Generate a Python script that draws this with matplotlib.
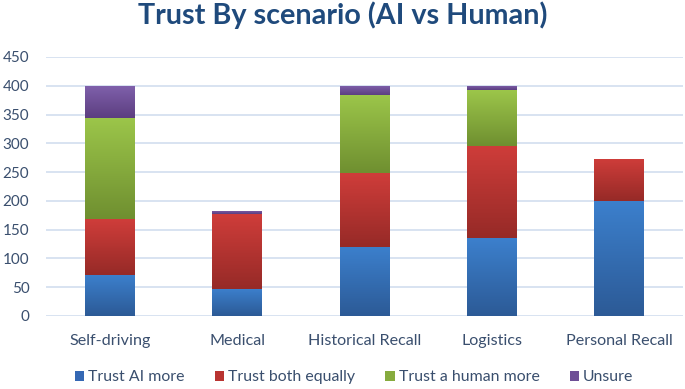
import matplotlib
matplotlib.use("Agg")
import matplotlib.pyplot as plt
import numpy as np
from matplotlib.colors import LinearSegmentedColormap
from matplotlib.patches import Patch

plt.rcParams['font.family'] = ['Lato', 'DejaVu Sans']

categories = ["Self-driving", "Medical", "Historical Recall", "Logistics", "Personal Recall"]
series_names = ["Trust AI more", "Trust both equally", "Trust a human more", "Unsure"]
trust_ai = [72, 47, 120, 135, 200]
trust_both = [96, 130, 128, 161, 73]
trust_human = [176, 0, 136, 96, 0]
unsure = [56, 6, 16, 8, 0]
yticks = [0, 50, 100, 150, 200, 250, 300, 350, 400, 450]

series = [trust_ai, trust_both, trust_human, unsure]
top_colors = ["#3C80CD", "#CF3D3A", "#9CC64A", "#8061AC"]
bot_colors = ["#2C5A96", "#962A27", "#6F8F30", "#5C3E80"]
legend_colors = ["#3568B4", "#B93431", "#86AB3E", "#6E4F96"]

fig = plt.figure(figsize=(6.85, 3.89), dpi=100)
ax = fig.add_axes([0.0672, 0.1877, 0.9298, 0.6658])

x = np.arange(len(categories))
width = 0.39
bottom = np.zeros(len(categories))
grad = np.linspace(0, 1, 256).reshape(-1, 1)
for vals, tc, bc in zip(series, top_colors, bot_colors):
    vals = np.array(vals, dtype=float)
    bars = ax.bar(x, vals, width, bottom=bottom, color=tc, edgecolor='none', zorder=3)
    cmap = LinearSegmentedColormap.from_list("g", [bc, tc])
    for b in bars:
        h = b.get_height()
        if h <= 0:
            continue
        x0, y0 = b.get_x(), b.get_y()
        im = ax.imshow(grad, cmap=cmap, aspect='auto', origin='lower',
                       extent=[x0, x0 + b.get_width(), y0, y0 + h], zorder=4)
        im.set_clip_path(b)
    bottom += vals

ax.set_xlim(-0.5, len(categories) - 0.5)
ax.set_ylim(0, 450)
ax.set_yticks(yticks)
ax.set_xticks(x)
ax.set_xticklabels(categories)
ax.grid(axis='y', color='#D5E0F0', linewidth=1.3, zorder=0)
ax.set_axisbelow(True)
for s in ax.spines.values():
    s.set_visible(False)
ax.tick_params(axis='both', length=0, labelsize=11, colors='#3A4F6E')
ax.tick_params(axis='x', labelsize=11.6, pad=13)
ax.tick_params(axis='y', pad=12)

fig.text(0.5, 1 - 24 / 389, "Trust By scenario (AI vs Human)", fontsize=20.7,
         fontweight='bold', color='#1F4A7C', ha='center', va='baseline')

handles = [Patch(facecolor=c, edgecolor='none') for c in legend_colors]
fig.legend(handles, series_names, loc='center', bbox_to_anchor=(0.517, 0.03), ncol=4,
           frameon=False, fontsize=11.4, handlelength=0.6, handleheight=0.6,
           handletextpad=0.25, columnspacing=1.9, labelcolor='#3A4F6E')

fig.savefig("out.png", dpi=100)
